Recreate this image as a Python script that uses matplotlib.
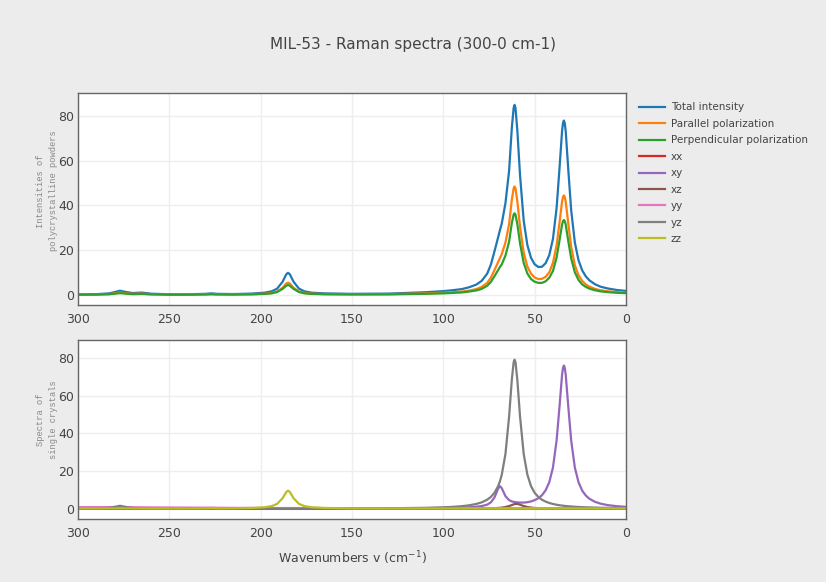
import matplotlib
matplotlib.use("Agg")
import matplotlib.pyplot as plt

# wavenumbers (cm-1) shared by all traces
wn = [0, 5, 10, 14, 17, 20, 22, 24, 26, 28,
      30, 31.5, 33, 33.5, 34, 34.5, 35, 36.5, 38, 40,
      42, 44, 46, 48, 50, 52, 54, 56, 58, 59.5,
      60.5, 61, 61.5, 62.5, 64, 66, 68, 69, 70, 72,
      74, 76, 79, 82, 86, 90, 95, 100, 110, 130,
      150, 165, 172, 176, 179, 182, 184, 185, 186, 188,
      191, 194, 198, 205, 215, 224, 227, 230, 240, 250,
      260, 265, 270, 274, 277, 280, 283, 290, 300]

# polycrystalline powders
total = [1.8, 2.2, 2.9, 3.7, 4.8, 6.5, 8.3, 11.0, 15.5, 23.4,
         37.8, 54.9, 73.1, 76.7, 78.0, 76.8, 73.3, 55.5, 38.8, 25.0,
         17.8, 14.2, 12.6, 12.5, 13.7, 16.6, 22.3, 33.2, 53.4, 73.7,
         83.6, 85.0, 83.7, 74.8, 55.5, 41.0, 32.0, 29.0, 25.8, 19.5,
         13.5, 9.5, 6.3, 4.6, 3.4, 2.6, 2.1, 1.7, 1.2, 0.6,
         0.5, 0.7, 1.0, 1.6, 2.8, 5.9, 9.2, 9.9, 9.2, 5.9,
         2.8, 1.6, 1.0, 0.6, 0.4, 0.5, 0.7, 0.5, 0.3, 0.3,
         0.55, 1.05, 0.85, 1.35, 1.9, 1.25, 0.7, 0.35, 0.25]
parallel = [1.0, 1.25, 1.65, 2.1, 2.7, 3.7, 4.7, 6.3, 8.8, 13.3,
            21.5, 31.3, 41.7, 43.7, 44.5, 43.8, 41.8, 31.6, 22.1, 14.3,
            10.1, 8.1, 7.2, 7.1, 7.8, 9.5, 12.7, 18.9, 30.4, 42.0,
            47.7, 48.5, 47.7, 42.6, 31.7, 23.4, 18.3, 16.5, 14.7, 11.1,
            7.7, 5.4, 3.6, 2.6, 1.9, 1.5, 1.2, 1.0, 0.7, 0.35,
            0.3, 0.4, 0.55, 0.9, 1.5, 3.2, 5.1, 5.45, 5.1, 3.2,
            1.5, 0.9, 0.55, 0.35, 0.25, 0.3, 0.4, 0.3, 0.2, 0.2,
            0.3, 0.6, 0.5, 0.75, 1.1, 0.7, 0.4, 0.2, 0.15]
perpendicular = [0.8, 0.95, 1.25, 1.6, 2.1, 2.8, 3.6, 4.7, 6.7, 10.1,
                 16.3, 23.6, 31.4, 33.0, 33.5, 33.0, 31.5, 23.9, 16.7, 10.7,
                 7.7, 6.1, 5.4, 5.4, 5.9, 7.1, 9.6, 14.3, 23.0, 31.7,
                 35.9, 36.5, 36.0, 32.2, 23.8, 17.6, 13.7, 12.5, 11.1, 8.4,
                 5.8, 4.1, 2.7, 2.0, 1.5, 1.1, 0.9, 0.7, 0.5, 0.25,
                 0.2, 0.3, 0.45, 0.7, 1.3, 2.7, 4.1, 4.45, 4.1, 2.7,
                 1.3, 0.7, 0.45, 0.25, 0.15, 0.2, 0.3, 0.2, 0.1, 0.1,
                 0.25, 0.45, 0.35, 0.6, 0.8, 0.55, 0.3, 0.15, 0.1]

# single crystals
xx = [0.2] * 72 + [0.25, 0.3, 0.3, 0.25, 0.2, 0.2, 0.2]
xy = [1.13, 1.48, 2.05, 2.84, 3.81, 5.4, 7.11, 9.76, 14.2, 21.9,
      36.2, 53.1, 71.1, 74.7, 76.0, 74.7, 71.1, 53.1, 36.2, 21.9,
      14.2, 9.9, 7.3, 5.7, 4.7, 4.0, 3.6, 3.4, 3.4, 3.5,
      3.6, 3.7, 3.8, 4.0, 4.7, 6.8, 11.0, 12.1, 10.8, 6.1,
      3.5, 2.3, 1.55, 1.2, 0.9, 0.75, 0.62, 0.54, 0.45, 0.3] + [0.25] + [0.2] * 28
xz = [0.1, 0.1, 0.1, 0.1, 0.1, 0.1, 0.1, 0.11, 0.11, 0.12,
      0.12, 0.13, 0.14, 0.14, 0.14, 0.15, 0.15, 0.16, 0.18, 0.2,
      0.22, 0.28, 0.34, 0.42, 0.54, 0.73, 1.04, 1.55, 2.27, 2.7,
      2.66, 2.58, 2.45, 2.08, 1.55, 1.04, 0.73, 0.62, 0.54, 0.42,
      0.34, 0.28, 0.22, 0.2, 0.17, 0.15, 0.13, 0.12, 0.1, 0.1] + [0.1] * 29
yy = [0.4] * 51 + [0.45] + [0.5] * 11 + [0.55, 0.6, 0.65, 0.75, 0.7, 0.75, 0.8,
                                       0.85, 0.9, 0.95, 1.05, 1.1, 1.05, 1.0, 1.0, 1.0]
yz = [0.45, 0.51, 0.59, 0.66, 0.74, 0.83, 0.9, 0.97, 1.07, 1.18,
      1.32, 1.43, 1.58, 1.62, 1.67, 1.75, 1.81, 2.0, 2.25, 2.66,
      3.19, 3.91, 4.91, 6.37, 8.58, 12.1, 18.2, 29.1, 48.9, 68.5,
      77.8, 79.1, 77.8, 68.5, 48.9, 29.1, 18.2, 14.7, 12.1, 8.58,
      6.37, 4.91, 3.52, 2.66, 1.93, 1.48, 1.12, 0.9, 0.62, 0.39,
      0.3, 0.27, 0.25, 0.25, 0.25, 0.25, 0.25, 0.25, 0.25, 0.25,
      0.25, 0.25, 0.25, 0.25, 0.25, 0.2, 0.2, 0.2, 0.2, 0.2,
      0.25, 0.3, 0.5, 1.1, 1.7, 1.1, 0.6, 0.3, 0.2]
zz = [0.3] * 50 + [0.35, 0.55, 0.9, 1.5, 2.7, 5.7, 9.0, 9.7, 9.0, 5.7,
                   2.7, 1.5, 0.9, 0.55, 0.4, 0.35, 0.45, 0.35, 0.3, 0.3] + [0.3] * 9

top_names = ["Total intensity", "Parallel polarization", "Perpendicular polarization"]
bottom_names = ["xx", "xy", "xz", "yy", "yz", "zz"]
colors = ["#1f77b4", "#ff7f0e", "#2ca02c", "#d62728", "#9467bd", "#8c564b", "#e377c2", "#7f7f7f", "#bcbd22"]

fig = plt.figure(figsize=(8.26, 5.82), dpi=100, facecolor="#ececec")
ax1 = fig.add_axes([78 / 826, 1 - 305 / 582, 548 / 826, 212 / 582])
ax2 = fig.add_axes([78 / 826, 1 - 519 / 582, 548 / 826, 179 / 582])

handles = []
for i, ys in enumerate([total, parallel, perpendicular]):
    h, = ax1.plot(wn, ys, color=colors[i], lw=1.6, label=top_names[i])
    handles.append(h)
for i, ys in enumerate([xx, xy, xz, yy, yz, zz]):
    h, = ax2.plot(wn, ys, color=colors[i + 3], lw=1.6, label=bottom_names[i])
    handles.append(h)

ax1.set_ylim(-4.5, 90.3)
ax2.set_ylim(-5.3, 89.5)
for ax in (ax1, ax2):
    ax.set_xlim(300, 0)
    ax.set_xticks([300, 250, 200, 150, 100, 50, 0])
    ax.set_yticks([0, 20, 40, 60, 80])
    ax.set_facecolor("white")
    ax.grid(True, color="#eeeeee", lw=1)
    ax.set_axisbelow(True)
    ax.tick_params(length=0, labelsize=9, labelcolor="#444444")
    ax.tick_params(axis="x", pad=6)
    ax.tick_params(axis="y", pad=3)
    for s in ax.spines.values():
        s.set_color("#666666")
        s.set_linewidth(1)

fig.text(47 / 826, 1 - 191 / 582, "Intensities of\npolycrystalline powders", rotation=90,
         ha="center", va="center", family="Liberation Mono", fontsize=6.3, color="#888888",
         linespacing=1.5)
fig.text(47 / 826, 1 - 420 / 582, "Spectra of\nsingle crystals", rotation=90,
         ha="center", va="center", family="Liberation Mono", fontsize=6.3, color="#888888",
         linespacing=1.5)

fig.text(413 / 826, 1 - 45 / 582, "MIL-53 - Raman spectra (300-0 cm-1)", ha="center", va="center",
         fontsize=11, color="#444444")
fig.text(352 / 826, 1 - 558 / 582, "Wavenumbers v (cm$^{-1}$)", ha="center", va="center",
         fontsize=9, color="#444444")

fig.legend(handles=handles, loc="upper left", bbox_to_anchor=(630 / 826, 1 - 93 / 582),
           frameon=False, fontsize=7.5, handlelength=2.5, labelspacing=0.62, handletextpad=0.5,
           labelcolor="#444444")

fig.savefig("out.png", dpi=100, facecolor=fig.get_facecolor())
